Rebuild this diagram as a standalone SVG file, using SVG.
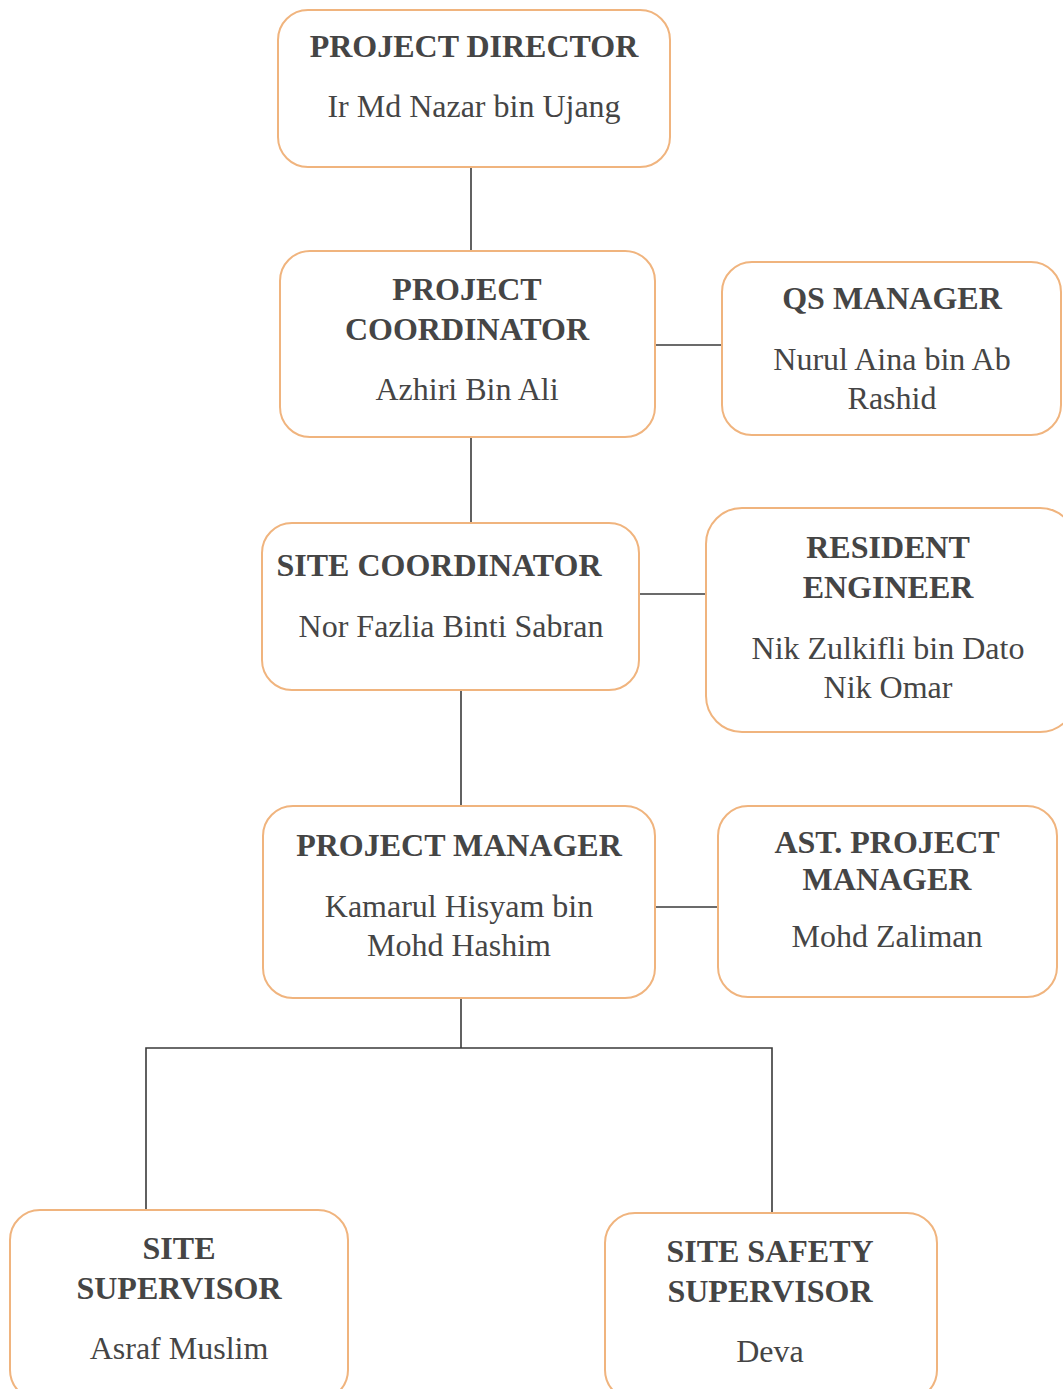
<svg xmlns="http://www.w3.org/2000/svg" width="1063" height="1389" viewBox="0 0 1063 1389">
<style>
.box{fill:#fff;stroke:#f0b47e;stroke-width:2}
.t{font-family:"Liberation Serif","Times New Roman",serif;font-size:32px;font-weight:bold;fill:#454545;text-anchor:middle}
.n{font-family:"Liberation Serif","Times New Roman",serif;font-size:32px;fill:#454545;text-anchor:middle}
.c{stroke:#3a3a3a;stroke-width:1.6;fill:none}
</style>
<rect width="1063" height="1389" fill="#fff"/>
<g id="connectors">
<line class="c" x1="471" y1="167" x2="471" y2="251"/>
<line class="c" x1="655" y1="345" x2="722" y2="345"/>
<line class="c" x1="471" y1="437" x2="471" y2="523"/>
<line class="c" x1="639" y1="594" x2="706" y2="594"/>
<line class="c" x1="461" y1="690" x2="461" y2="806"/>
<line class="c" x1="655" y1="907" x2="718" y2="907"/>
<polyline class="c" points="461,998 461,1048"/>
<polyline class="c" points="146,1210 146,1048 772,1048 772,1213"/>
</g>
<g id="project-director">
<rect class="box" x="278" y="10" width="392" height="157" rx="30"/>
<text class="t" x="474" y="57">PROJECT DIRECTOR</text>
<text class="n" x="474" y="117">Ir Md Nazar bin Ujang</text>
</g>
<g id="project-coordinator">
<rect class="box" x="280" y="251" width="375" height="186" rx="30"/>
<text class="t" x="467" y="300">PROJECT</text>
<text class="t" x="467" y="340">COORDINATOR</text>
<text class="n" x="467" y="400">Azhiri Bin Ali</text>
</g>
<g id="qs-manager">
<rect class="box" x="722" y="262" width="339" height="173" rx="30"/>
<text class="t" x="892" y="309">QS MANAGER</text>
<text class="n" x="892" y="370">Nurul Aina bin Ab</text>
<text class="n" x="892" y="409">Rashid</text>
</g>
<g id="site-coordinator">
<rect class="box" x="262" y="523" width="377" height="167" rx="30"/>
<text class="t" x="439" y="576">SITE COORDINATOR</text>
<text class="n" x="451" y="637">Nor Fazlia Binti Sabran</text>
</g>
<g id="resident-engineer">
<rect class="box" x="706" y="508" width="370" height="224" rx="36"/>
<text class="t" x="888" y="558">RESIDENT</text>
<text class="t" x="888" y="598">ENGINEER</text>
<text class="n" x="888" y="659">Nik Zulkifli bin Dato</text>
<text class="n" x="888" y="698">Nik Omar</text>
</g>
<g id="project-manager">
<rect class="box" x="263" y="806" width="392" height="192" rx="30"/>
<text class="t" x="459" y="856">PROJECT MANAGER</text>
<text class="n" x="459" y="917">Kamarul Hisyam bin</text>
<text class="n" x="459" y="956">Mohd Hashim</text>
</g>
<g id="ast-project-manager">
<rect class="box" x="718" y="806" width="339" height="191" rx="30"/>
<text class="t" x="887" y="853">AST. PROJECT</text>
<text class="t" x="887" y="890">MANAGER</text>
<text class="n" x="887" y="947">Mohd Zaliman</text>
</g>
<g id="site-supervisor">
<rect class="box" x="10" y="1210" width="338" height="190" rx="30"/>
<text class="t" x="179" y="1259">SITE</text>
<text class="t" x="179" y="1299">SUPERVISOR</text>
<text class="n" x="179" y="1359">Asraf Muslim</text>
</g>
<g id="site-safety-supervisor">
<rect class="box" x="605" y="1213" width="332" height="187" rx="30"/>
<text class="t" x="770" y="1262">SITE SAFETY</text>
<text class="t" x="770" y="1302">SUPERVISOR</text>
<text class="n" x="770" y="1362">Deva</text>
</g>
</svg>
